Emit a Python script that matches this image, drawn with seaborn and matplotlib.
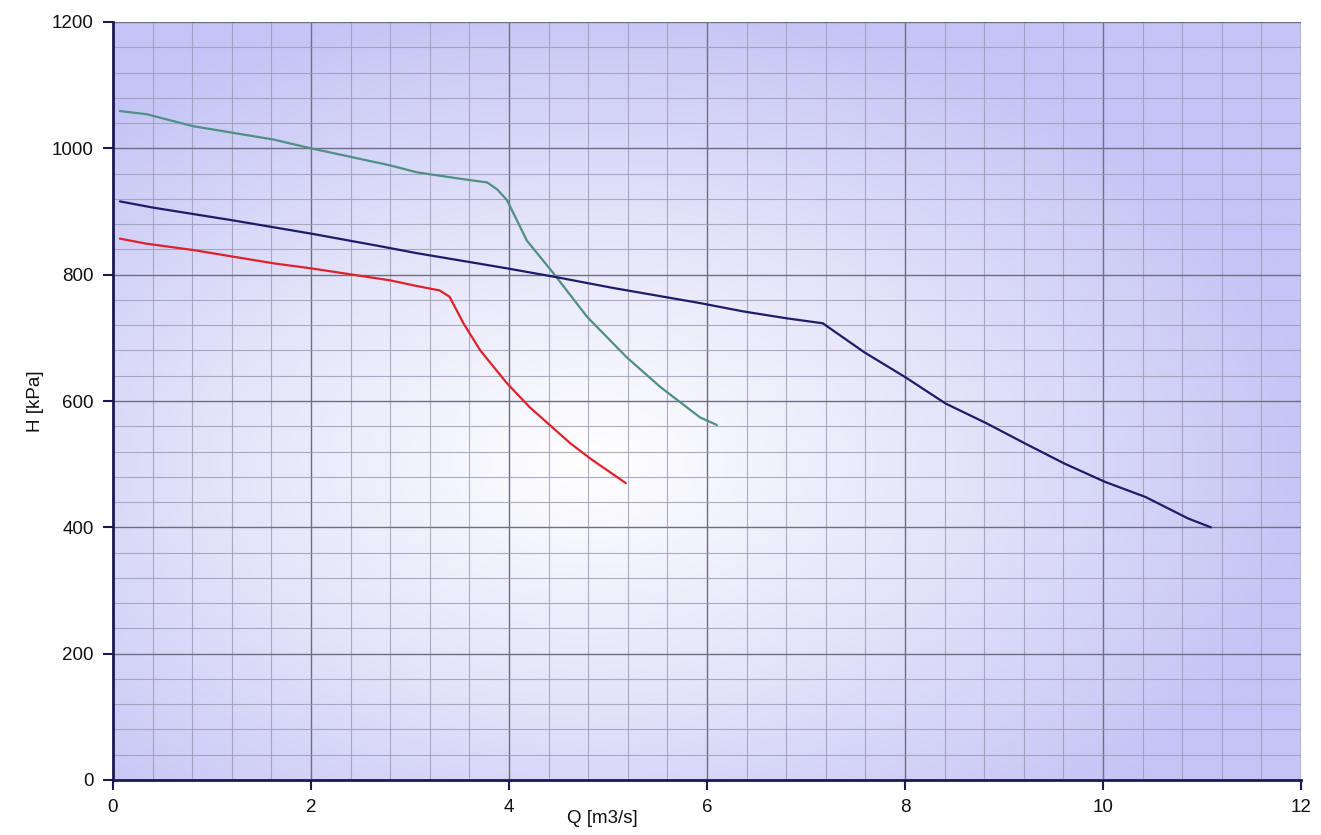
import numpy as np
import pandas as pd
import matplotlib
matplotlib.use("Agg")
import matplotlib.pyplot as plt
from matplotlib.colors import LinearSegmentedColormap
from matplotlib.ticker import MultipleLocator
import seaborn as sns

# ---- data ----
teal_q = [0.07, 0.34, 0.81, 1.62, 2.0, 2.8, 3.07, 3.5, 3.78, 3.88, 3.98, 4.18, 4.45, 4.79, 5.19, 5.53, 5.93, 6.10]
teal_h = [1059, 1054, 1035, 1014, 1000, 973, 962, 952, 946, 935, 918, 854, 802, 733, 669, 622, 574, 562]

navy_q = [0.07, 0.41, 1.21, 2.0, 2.70, 3.07, 3.98, 4.48, 5.05, 5.93, 6.36, 6.80, 7.17, 7.59, 8.0, 8.41, 8.82, 9.21, 9.61, 10.02, 10.43, 10.86, 11.09]
navy_h = [916, 906, 886, 865, 845, 834, 810, 796, 779, 755, 742, 731, 723, 677, 638, 596, 565, 533, 501, 472, 448, 414, 400]

red_q = [0.07, 0.34, 0.81, 1.62, 2.0, 2.8, 3.07, 3.30, 3.40, 3.54, 3.71, 3.98, 4.21, 4.62, 4.82, 5.18]
red_h = [857, 849, 839, 818, 810, 791, 782, 775, 765, 723, 680, 628, 590, 533, 509, 470]

x_ticks = [0, 2, 4, 6, 8, 10, 12]
y_ticks = [0, 200, 400, 600, 800, 1000, 1200]

df = pd.concat([
    pd.DataFrame({"Q": teal_q, "H": teal_h, "curve": "A"}),
    pd.DataFrame({"Q": navy_q, "H": navy_h, "curve": "B"}),
    pd.DataFrame({"Q": red_q, "H": red_h, "curve": "C"}),
], ignore_index=True)

sns.set_style("white")
plt.rcParams['font.family'] = ['Liberation Sans', 'DejaVu Sans']

fig = plt.figure(figsize=(13.21, 8.35), dpi=100)
ax = fig.add_axes([113/1321, 1 - 780/835, (1301-113)/1321, (780-22)/835])

# radial gradient background
nx, ny = 400, 260
xs = np.linspace(0, 1, nx)
ys = np.linspace(0, 1, ny)
X, Y = np.meshgrid(xs, ys)
cx, cy = 0.40, 0.42
R = np.sqrt(((X - cx) / 0.62) ** 2 + ((Y - cy) / 0.62) ** 2)
R = np.clip(R, 0, 1)
cmap = LinearSegmentedColormap.from_list("bg", ["#ffffff", "#e4e4fa", "#c4c4f6"])
ax.imshow(R, cmap=cmap, extent=[0, 1, 0, 1], origin="lower",
          transform=ax.transAxes, aspect="auto", zorder=0, vmin=0, vmax=1)

sns.lineplot(data=df, x="Q", y="H", hue="curve", sort=False, estimator=None,
             palette={"A": "#4f8f86", "B": "#1c1c6a", "C": "#e0202c"},
             linewidth=1.6, legend=False, ax=ax, zorder=5)

ax.set_xlim(0, 12)
ax.set_ylim(0, 1200)
ax.set_xticks(x_ticks)
ax.set_yticks(y_ticks)
ax.xaxis.set_minor_locator(MultipleLocator(0.4))
ax.yaxis.set_minor_locator(MultipleLocator(40))
ax.grid(which="major", color="#6e6e82", linewidth=1.0, zorder=1)
ax.grid(which="minor", color="#9a9ab4", linewidth=0.8, alpha=0.8, zorder=1)
ax.set_axisbelow(True)

for s in ["top", "right"]:
    ax.spines[s].set_visible(False)
for s in ["left", "bottom"]:
    ax.spines[s].set_color("#1a1a50")
    ax.spines[s].set_linewidth(2.0)
    ax.spines[s].set_zorder(6)

ax.tick_params(which="major", direction="out", length=7, width=1.5,
               bottom=True, left=True, top=False, right=False,
               color="#1a1a50", labelsize=13.5, pad=7, labelcolor="#111111")
ax.tick_params(which="minor", length=0, bottom=False, left=False)
ax.set_yticklabels([str(v) for v in y_ticks])
ax.set_xticklabels([str(v) for v in x_ticks])

ax.set_xlabel("Q [m3/s]", fontsize=13.5, color="#111111")
ax.xaxis.set_label_coords(0.412, -0.04)
ax.set_ylabel("H [kPa]", fontsize=13.5, color="#111111")
ax.yaxis.set_label_coords(-0.058, 0.5)

fig.savefig("out.png", dpi=100, facecolor="white")
